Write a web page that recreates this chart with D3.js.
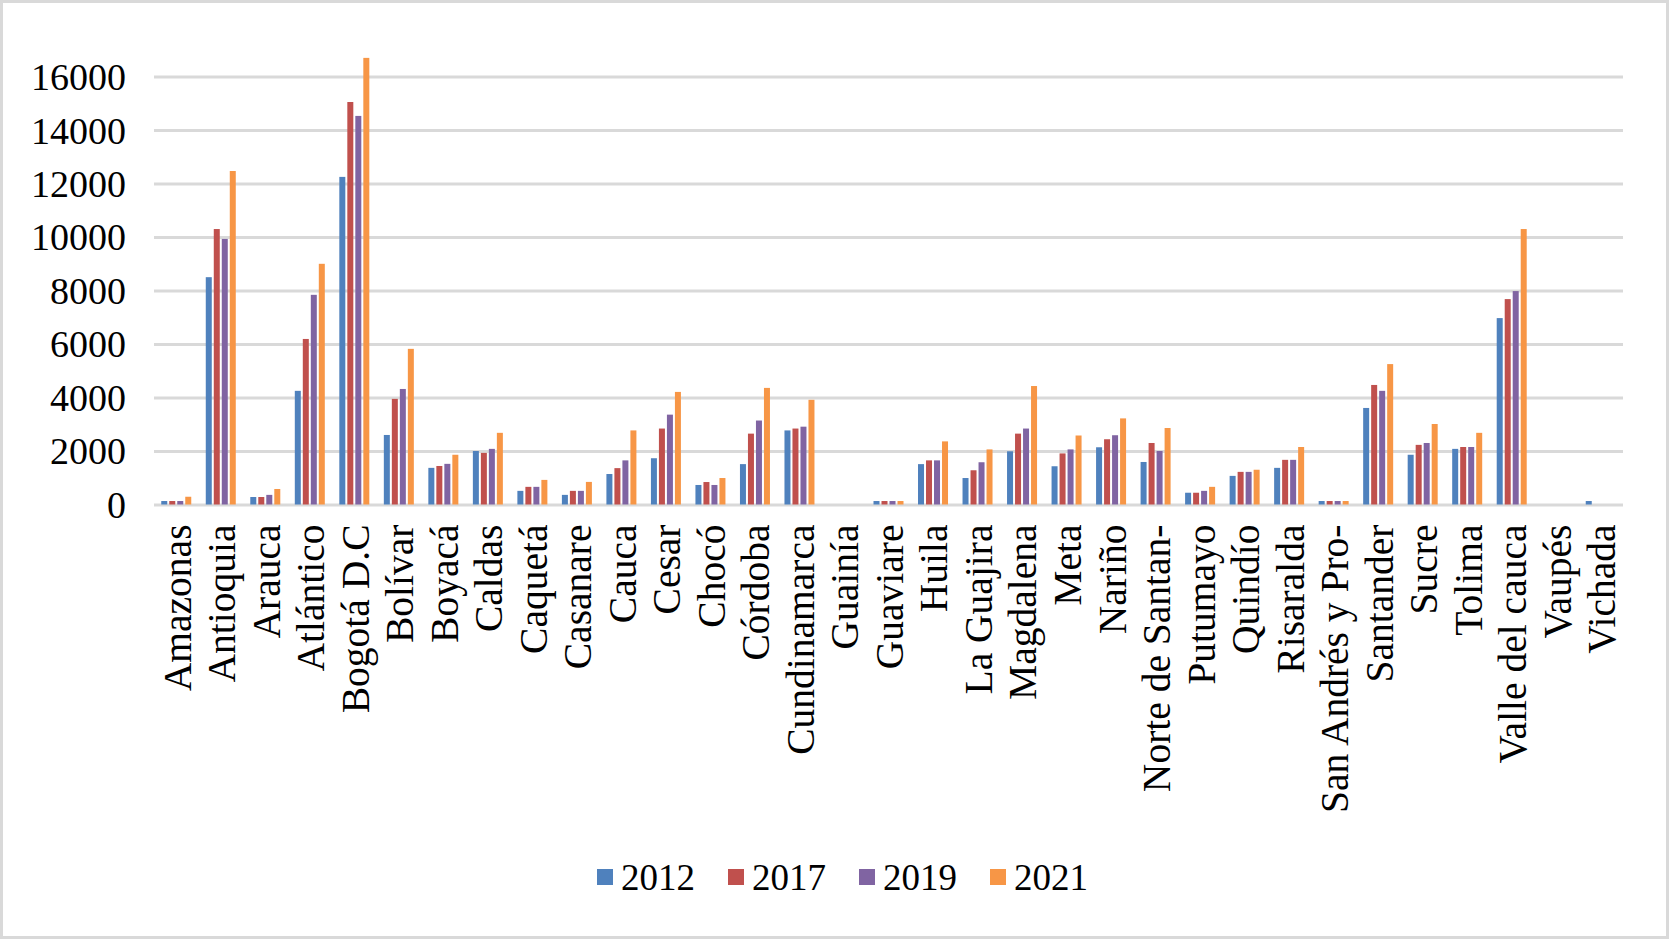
<!DOCTYPE html>
<html>
<head>
<meta charset="utf-8">
<script src="https://cdn.jsdelivr.net/npm/d3@7"></script>
<style>
  body { margin: 0; background: #fff; }
  text { font-family: "Liberation Serif", "Times New Roman", serif; fill: #000; }
</style>
</head>
<body>
<div id="chart"></div>
<script>
// departments (x categories)
var departamentos = ["Amazonas", "Antioquia", "Arauca", "Atlántico", "Bogotá D.C", "Bolívar", "Boyacá",
  "Caldas", "Caquetá", "Casanare", "Cauca", "Cesar", "Chocó", "Córdoba", "Cundinamarca", "Guainía",
  "Guaviare", "Huila", "La Guajira", "Magdalena", "Meta", "Nariño", "Norte de Santan-", "Putumayo",
  "Quindío", "Risaralda", "San Andrés y Pro-", "Santander", "Sucre", "Tolima", "Valle del cauca",
  "Vaupés", "Vichada"];

var years = ["2012", "2017", "2019", "2021"];

// values
var v2012 = [130, 8500, 280, 4250, 12250, 2600, 1370, 2000, 510, 360, 1140, 1730, 730, 1510, 2770, 0,
  130, 1510, 990, 1990, 1430, 2140, 1590, 440, 1070, 1370, 130, 3610, 1860, 2080, 6970, 0, 130];
var v2017 = [130, 10300, 280, 6190, 15050, 3950, 1440, 1930, 660, 510, 1360, 2840, 840, 2650, 2840, 0,
  130, 1650, 1280, 2650, 1910, 2440, 2300, 440, 1220, 1670, 130, 4470, 2230, 2150, 7680, 0, 0];
var v2019 = [130, 9930, 360, 7840, 14530, 4320, 1520, 2080, 660, 510, 1650, 3360, 730, 3140, 2910, 0,
  130, 1650, 1580, 2840, 2060, 2590, 2000, 510, 1220, 1670, 130, 4250, 2300, 2150, 7980, 0, 0];
var v2021 = [290, 12470, 580, 9000, 16700, 5820, 1860, 2680, 920, 845, 2770, 4210, 990, 4360, 3915, 0,
  130, 2360, 2060, 4430, 2580, 3220, 2860, 660, 1300, 2150, 130, 5250, 3010, 2680, 10300, 0, 0];

var yTicks = [0, 2000, 4000, 6000, 8000, 10000, 12000, 14000, 16000];
var colors = ["#4F81BD", "#C0504D", "#8064A2", "#F79646"];

var series = [v2012, v2017, v2019, v2021];
var data = departamentos.map(function (d, i) {
  return { name: d, values: years.map(function (y, j) { return { year: y, value: series[j][i] }; }) };
});

var W = 1669, H = 939;
var plot = { left: 154, right: 1623, top: 76.6, bottom: 504.5 };

var svg = d3.select("#chart").append("svg")
  .attr("width", W).attr("height", H);

// outer frame
svg.append("rect")
  .attr("x", 1.5).attr("y", 1.5)
  .attr("width", W - 3).attr("height", H - 3)
  .attr("fill", "#fff").attr("stroke", "#D9D9D9").attr("stroke-width", 3);

var x0 = d3.scaleBand().domain(departamentos).range([plot.left, plot.right])
  .paddingInner(0.326).paddingOuter(0.163);
var x1 = d3.scaleBand().domain(years).range([0, x0.bandwidth()]).paddingInner(0.25);
var y = d3.scaleLinear().domain([0, 16000]).range([plot.bottom, plot.top]);
var color = d3.scaleOrdinal().domain(years).range(colors);

// gridlines + y labels
var yAxis = svg.append("g")
  .attr("transform", "translate(" + plot.left + ",0)")
  .call(d3.axisLeft(y).tickValues(yTicks).tickSize(-(plot.right - plot.left)).tickPadding(28)
    .tickFormat(d3.format("d")));
yAxis.select(".domain").remove();
yAxis.selectAll(".tick line").attr("stroke", "#D9D9D9").attr("stroke-width", 3);
yAxis.selectAll(".tick text")
  .style("font-family", "'Liberation Serif', serif")
  .style("font-size", "38px").attr("fill", "#000").attr("dy", "0.34em");

// bars
svg.append("g").selectAll("g")
  .data(data)
  .join("g")
  .attr("transform", function (d) { return "translate(" + x0(d.name) + ",0)"; })
  .selectAll("rect")
  .data(function (d) { return d.values; })
  .join("rect")
  .attr("x", function (d) { return x1(d.year); })
  .attr("y", function (d) { return y(d.value); })
  .attr("width", x1.bandwidth())
  .attr("height", function (d) { return y(0) - y(d.value); })
  .attr("fill", function (d) { return color(d.year); });

// category labels (rotated)
var xAxis = svg.append("g")
  .attr("transform", "translate(0," + plot.bottom + ")")
  .call(d3.axisBottom(x0).tickSize(0).tickPadding(0));
xAxis.select(".domain").remove();
xAxis.selectAll(".tick text")
  .style("font-family", "'Liberation Serif', serif")
  .style("font-size", "39.5px")
  .attr("fill", "#000")
  .attr("text-anchor", "end")
  .attr("transform", "translate(1,20) rotate(-90)")
  .attr("x", 0).attr("y", 0).attr("dy", "0.34em");

// legend
var legend = svg.append("g").attr("transform", "translate(597,877)");
var item = legend.selectAll("g")
  .data(years)
  .join("g")
  .attr("transform", function (d, i) { return "translate(" + (i * 131) + ",0)"; });
item.append("rect")
  .attr("x", 0).attr("y", -8).attr("width", 16).attr("height", 16)
  .attr("fill", function (d) { return color(d); });
item.append("text")
  .attr("x", 24).attr("y", 0).attr("dy", "0.34em")
  .style("font-size", "37px")
  .text(function (d) { return d; });
</script>
</body>
</html>
